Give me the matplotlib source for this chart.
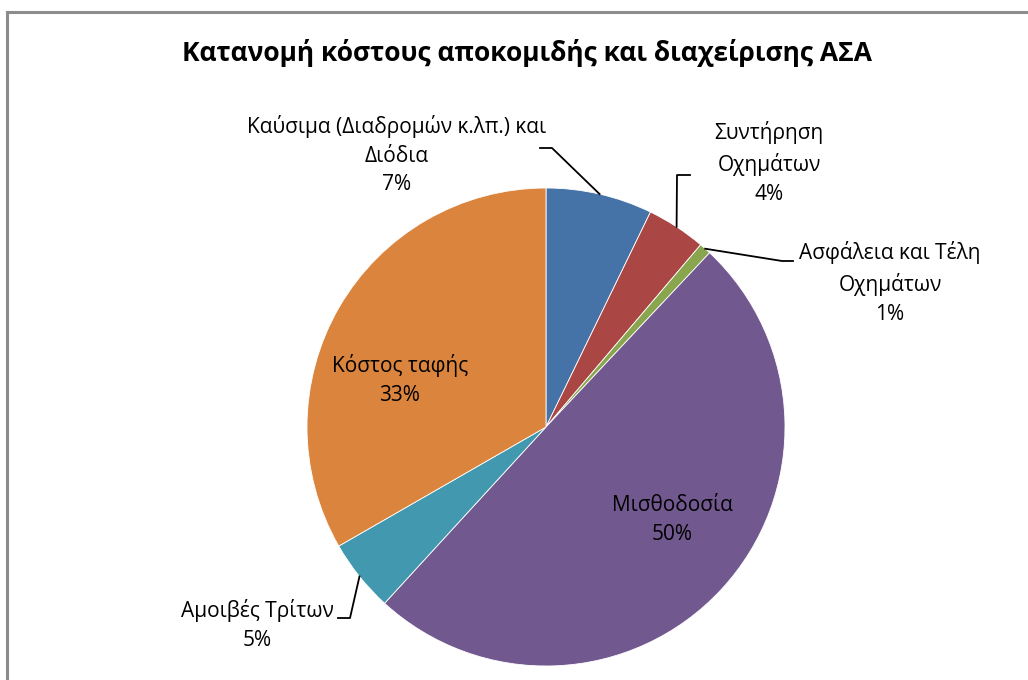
import numpy as np
import matplotlib
matplotlib.use("Agg")
import matplotlib.pyplot as plt
from matplotlib.lines import Line2D

plt.rcParams['font.family'] = ['Open Sans', 'DejaVu Sans']

title = "Κατανομή κόστους αποκομιδής και διαχείρισης ΑΣΑ"
labels = ["Καύσιμα (Διαδρομών κ.λπ.) και\nΔιόδια",
          "Συντήρηση\nΟχημάτων",
          "Ασφάλεια και Τέλη\nΟχημάτων",
          "Μισθοδοσία",
          "Αμοιβές Τρίτων",
          "Κόστος ταφής"]
values = [7.2, 4.0, 0.8, 49.8, 4.9, 33.3]
colors = ["#4572A7", "#AA4643", "#89A54E", "#71588F", "#4198AF", "#DB843D"]

W, H = 1028, 680
cx, cy, R = 546, 427, 239

fig = plt.figure(figsize=(W / 100, H / 100), dpi=100)
ax = fig.add_axes([(cx - R) / W, (H - cy - R) / H, 2 * R / W, 2 * R / H])

wedges, _ = ax.pie(values, colors=colors, startangle=90, counterclock=False,
                   radius=1, wedgeprops=dict(edgecolor='white', linewidth=0.6))
ax.set_xlim(-1, 1)
ax.set_ylim(-1, 1)
ax.set_aspect('equal')
ax.axis('off')


def d(px, py):
    return (px - cx) / R, (cy - py) / R


# label text positions (pixels) and leader elbows
fs = 15
pcts = ["%d%%" % round(v) for v in values]

text_pos = [(397, 155), (769, 163), (890, 283), (672, 520), (257, 625), (400, 380)]
leaders = {0: [(552, 148), (540, 148)],
           1: [(677, 175), (690, 175)],
           2: [(782, 261), (793, 261)],
           4: [(350, 618), (338, 618)]}

for i, w in enumerate(wedges):
    x, y = d(*text_pos[i])
    ax.text(x, y, labels[i] + "\n" + pcts[i], ha='center', va='center',
            fontsize=fs, linespacing=1.5, color='black', clip_on=False)
    if i in leaders:
        a = np.deg2rad((w.theta1 + w.theta2) / 2)
        pts = [(np.cos(a), np.sin(a))] + [d(*p) for p in leaders[i]]
        xs, ys = zip(*pts)
        ax.plot(xs, ys, color='black', lw=1.3, clip_on=False)

fig.text(527 / W, 1 - 53 / H, title, ha='center', va='center',
         fontsize=19, fontweight='bold', family=['Open Sans', 'DejaVu Sans'])

# chart area border (left and top visible)
fig.add_artist(Line2D([7 / W, 7 / W], [0, 1 - 12 / H], color='#8c8c8c', lw=2.2))
fig.add_artist(Line2D([7 / W, 1], [1 - 12 / H, 1 - 12 / H], color='#8c8c8c', lw=2.2))

fig.savefig("out.png", dpi=100, facecolor='white')
